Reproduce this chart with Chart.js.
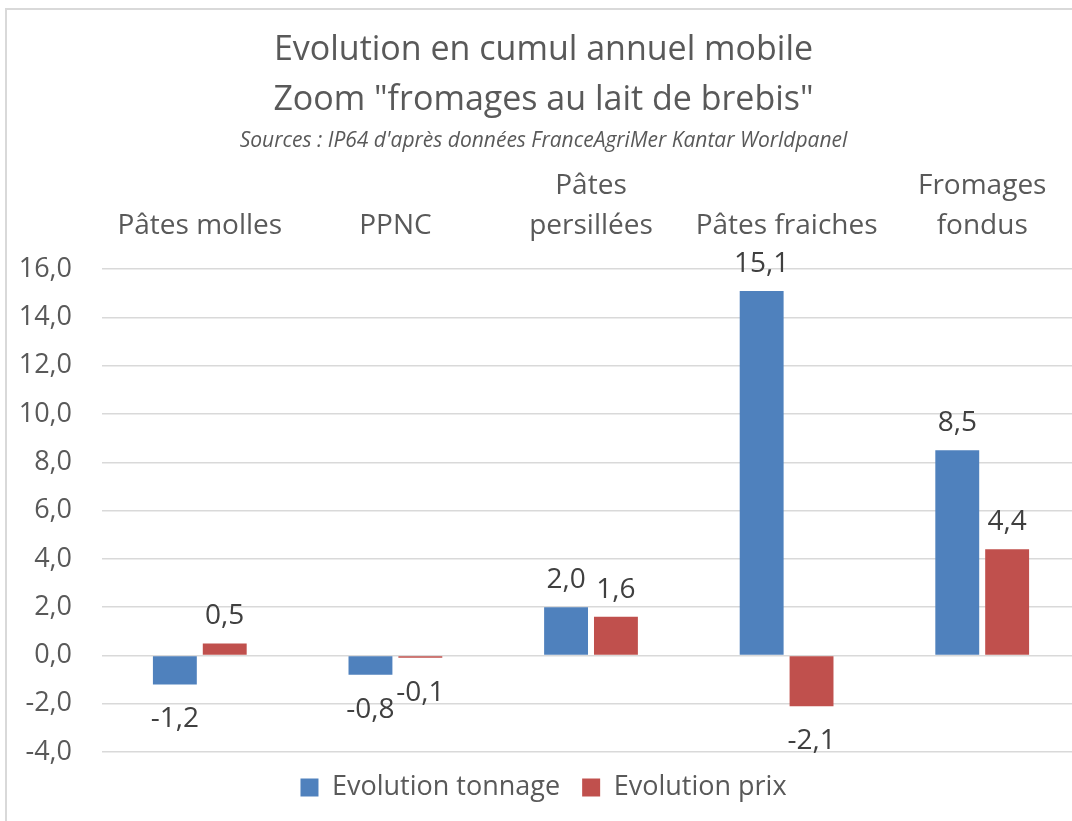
<!DOCTYPE html>
<html lang="fr">
<head>
<meta charset="utf-8">
<title>Evolution en cumul annuel mobile</title>
<script src="https://cdn.jsdelivr.net/npm/chart.js@4.4.1/dist/chart.umd.min.js"></script>
<style>
  html, body { margin: 0; padding: 0; background: #fff; overflow: hidden; }
  #cadre {
    position: absolute; left: 5px; top: 8px;
    width: 1085px; height: 820px;
    border: 2px solid #d9d9d9; box-sizing: border-box;
  }
  #cadre canvas { display: block; }
</style>
</head>
<body>
<div id="cadre"><canvas id="graphique" width="1075" height="811"></canvas></div>
<script>
// données
const categories = [
  'Pâtes molles',
  'PPNC',
  ['Pâtes', 'persillées'],
  'Pâtes fraiches',
  ['Fromages', 'fondus']
];
const evolutionTonnage = [-1.2, -0.8, 2.0, 15.1, 8.5];
const evolutionPrix    = [0.5, -0.1, 1.6, -2.1, 4.4];

const POLICE = "'Open Sans', 'Noto Sans', sans-serif";
const GRIS   = '#595959';

function virgule(v) {
  return Number(v).toFixed(1).replace('.', ',');
}

// étiquettes de valeur au-dessus / en dessous des barres
const etiquettes = {
  id: 'etiquettes',
  afterDatasetsDraw(chart) {
    const ctx = chart.ctx;
    ctx.save();
    ctx.font = '28px ' + POLICE;
    ctx.fillStyle = '#404040';
    ctx.textAlign = 'center';
    ctx.textBaseline = 'alphabetic';
    chart.data.datasets.forEach((ds, i) => {
      chart.getDatasetMeta(i).data.forEach((barre, j) => {
        const v = ds.data[j];
        const y = v >= 0 ? barre.y - 19 : barre.y + 43;
        ctx.fillText(virgule(v), barre.x, y);
      });
    });
    ctx.restore();
  }
};

new Chart(document.getElementById('graphique'), {
  type: 'bar',
  data: {
    labels: categories,
    datasets: [
      { label: 'Evolution tonnage', data: evolutionTonnage, backgroundColor: '#4f81bd' },
      { label: 'Evolution prix',    data: evolutionPrix,    backgroundColor: '#c0504d' }
    ]
  },
  options: {
    responsive: false,
    animation: false,
    categoryPercentage: 0.51,
    barPercentage: 0.88,
    layout: { padding: { left: 0, right: 2, top: 15, bottom: 10 } },
    plugins: {
      title: {
        display: true,
        text: ['Evolution en cumul annuel mobile', 'Zoom "fromages au lait de brebis"'],
        color: GRIS,
        font: { family: POLICE, size: 34, weight: 'normal', lineHeight: 1.47 },
        padding: { top: 0, bottom: 0 }
      },
      subtitle: {
        display: true,
        text: "Sources : IP64 d'après données FranceAgriMer Kantar Worldpanel",
        color: GRIS,
        font: { family: POLICE, size: 21, style: 'italic' },
        padding: { top: 3, bottom: -10 }
      },
      legend: {
        position: 'bottom',
        labels: {
          color: GRIS,
          font: { family: POLICE, size: 27 },
          boxWidth: 18, boxHeight: 18,
          padding: 22
        }
      },
      tooltip: { enabled: false }
    },
    scales: {
      x: {
        position: 'top',
        grid: { display: false, drawTicks: false },
        border: { display: false },
        ticks: {
          color: GRIS,
          font: { family: POLICE, size: 28, lineHeight: 1.43 },
          maxRotation: 0,
          autoSkip: false,
          padding: 23
        }
      },
      y: {
        min: -4, max: 16,
        afterFit(axe) { axe.width = 95; },
        ticks: {
          stepSize: 2,
          color: GRIS,
          font: { family: POLICE, size: 27 },
          padding: 30,
          callback: v => virgule(v)
        },
        grid: { color: '#d9d9d9', lineWidth: 1.5, drawTicks: false },
        border: { display: false }
      }
    }
  },
  plugins: [etiquettes]
});
</script>
</body>
</html>
